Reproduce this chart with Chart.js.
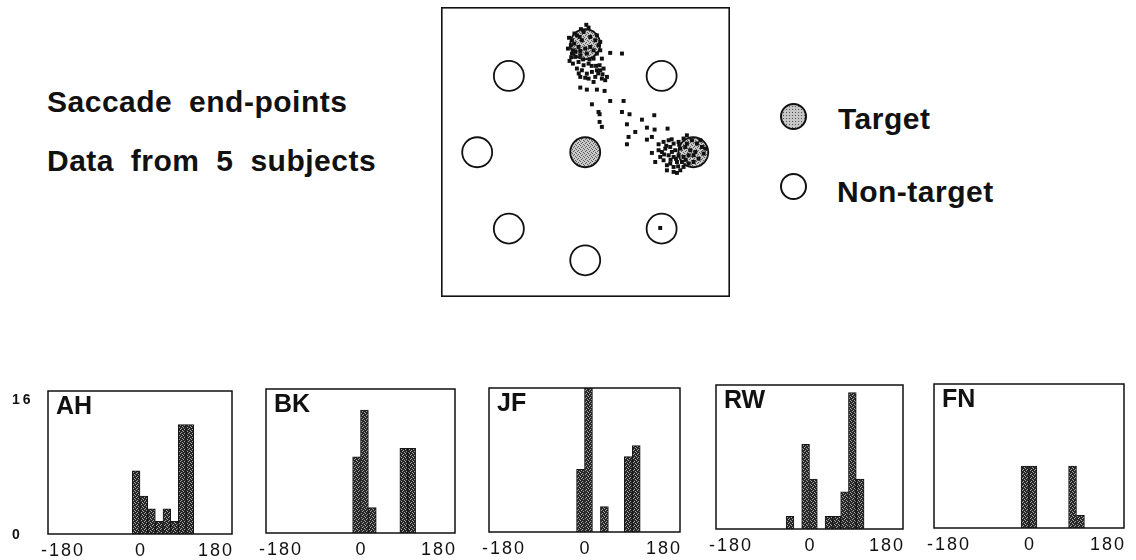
<!DOCTYPE html>
<html><head><meta charset="utf-8">
<script src="https://cdn.jsdelivr.net/npm/chart.js@4.4.0/dist/chart.umd.min.js"></script>
<style>
html,body{margin:0;padding:0;background:#fff;}
body{width:1136px;height:560px;position:relative;overflow:hidden;font-family:"Liberation Sans",Arial,Helvetica,sans-serif;}
.t{position:absolute;font-weight:bold;font-size:30px;color:#111;letter-spacing:0.5px;word-spacing:8px;white-space:nowrap;line-height:30px;}
.box{position:absolute;}
.lc{position:absolute;border:2px solid #111;border-radius:50%;box-sizing:border-box;width:27px;height:27px;}
.shade{background:radial-gradient(circle,#555 0.7px,transparent 0.9px) 0 0/3px 3px,#c6c6c6;}
</style></head><body>

<div class="t" style="left:47px;top:87px;">Saccade end-points</div>
<div class="t" style="left:47px;top:146px;">Data from 5 subjects</div>
<div class="lc shade" style="left:780px;top:103px;"></div>
<div class="t" style="left:838px;top:104px;">Target</div>
<div class="lc" style="left:780px;top:173px;background:#fff;"></div>
<div class="t" style="left:837px;top:177px;">Non-target</div>

<div class="box" style="left:441px;top:7px;width:289px;height:290px;"><canvas id="sc"></canvas></div>
<div class="box" id="w0"><canvas id="h0"></canvas></div>
<div class="box" id="w1"><canvas id="h1"></canvas></div>
<div class="box" id="w2"><canvas id="h2"></canvas></div>
<div class="box" id="w3"><canvas id="h3"></canvas></div>
<div class="box" id="w4"><canvas id="h4"></canvas></div>

<script>
// ---------- DATA ----------
// stimulus positions (units: ring radius = 10)
const fixation = [[0, 0]];
const targets = [[0, 10], [10, 0]];
const nonTargets = [[7.07, 7.07], [7.07, -7.07], [0, -10], [-7.07, -7.07], [-10, 0], [-7.07, 7.07]];

// saccade end-points
const endPoints = [
  [0.31,11.54],[-0.15,11.14],[-0.77,10.83],[-1.23,10.37],[-1.33,9.91],[-1.08,9.44],[-0.62,9.75],[-0.31,10.37],
  [0.46,10.68],[0.93,10.37],[1.23,9.91],[0.77,9.44],[0.15,9.14],[-0.46,8.98],[-0.93,8.83],[-1.45,8.46],
  [-1.14,8.21],[-0.62,8.36],[-0.15,8.06],[0.31,8.21],[0.77,8.67],[1.08,9.14],[1.39,9.44],[1.54,8.67],
  [1.33,8.06],[1.70,7.75],[1.08,7.59],[0.62,7.44],[0.15,7.28],[-0.31,7.59],[-0.77,7.75],[-0.46,6.98],
  [0.31,6.82],[0.93,6.98],[1.54,6.82],[1.85,6.67],[2.01,6.98],[-1.23,9.14],[0.46,9.75],[0.00,9.60],
  [-0.46,9.38],[1.39,7.59],[1.60,7.22],[0.77,6.51],[-1.02,10.06],[-0.52,10.68],[1.08,10.83],[1.39,10.22],
  [0.10,11.80],[-0.40,11.40],[-1.00,11.00],[-1.50,10.60],[-1.60,9.60],[-1.30,8.80],[-0.90,9.30],[0.40,8.60],
  [-0.20,8.60],[1.00,8.00],[0.60,8.00],[-0.60,7.30],[1.20,7.30],[0.00,6.90],
  [2.31,9.20],[3.40,9.14],[-0.46,5.99],[0.15,5.80],[1.08,5.80],[1.79,5.68],[0.62,4.44],[2.31,4.75],
  [3.55,4.75],[1.23,3.73],[1.33,3.52],[3.40,3.73],[4.10,3.52],[1.33,2.81],[1.54,2.35],[5.25,3.02],
  [6.39,3.43],[3.86,2.59],[5.71,2.28],[6.42,2.10],[7.62,2.19],[4.63,1.88],[4.01,1.42],[5.71,1.17],
  [6.17,1.42],[3.86,0.74],[6.79,0.74],[6.17,-0.06],[6.48,-0.90],
  [7.25,0.96],[7.72,1.11],[8.18,0.80],[8.64,0.96],[9.10,1.27],[9.41,1.57],[9.88,1.11],[10.34,0.80],
  [10.80,0.49],[10.96,-0.12],[10.49,-0.59],[10.03,-0.90],[9.57,-1.05],[9.10,-1.36],[8.80,-1.67],[8.49,-1.91],
  [8.18,-1.36],[7.87,-1.05],[7.56,-1.20],[7.25,-0.74],[6.94,-0.43],[7.10,0.03],[7.41,0.34],[7.87,0.49],
  [8.33,0.19],[8.80,0.34],[9.26,0.49],[9.72,0.19],[10.19,0.03],[9.57,-0.28],[9.10,-0.43],[8.64,-0.28],
  [8.18,-0.43],[7.72,-0.28],[8.02,0.03],[8.95,-0.90],[8.49,-0.90],[9.41,0.80],[10.65,1.11],[11.11,0.34],
  [6.79,0.19],[7.56,-1.67],[8.18,-1.82],[10.03,-0.28],
  [7.50,0.60],[8.00,1.20],[8.40,-0.60],[7.90,-0.70],[9.30,-0.70],[8.70,0.70],[7.30,-0.20],[8.60,-1.30],
  [6.94,-7.01]
];

// histograms: direction bins (deg, 15 deg wide) and counts
const binCenters = [-37.5, -22.5, -7.5, 7.5, 22.5, 37.5, 52.5, 67.5, 82.5, 97.5];
const subjects = ['AH', 'BK', 'JF', 'RW', 'FN'];
const countsAH = [null, null, 7.5, 4.5, 3, 1.5, 3, 1.5, 13, 13];
const countsBK = [null, null, 9, 14.5, 3, null, null, null, 10, 10];
const countsJF = [null, null, 7.4, 17.5, null, 3, null, null, 8.9, 10.2];
const countsRW = [1.5, null, 10, 5.9, null, 1.5, 1.5, 4.4, 16.1, 5.9];
const countsFN = [null, null, 7.3, 7.3, null, null, null, null, 7.3, 1.5];
const xTicks = [-180, 0, 180];
const yTicks = [0, 16];

// ---------- LAYOUT / STYLE ----------
const FONT = '"Liberation Sans", Arial, Helvetica, sans-serif';
function makePattern(base, spot, pts) {
  const c = document.createElement('canvas'); c.width = 4; c.height = 4;
  const g = c.getContext('2d'); g.fillStyle = base; g.fillRect(0, 0, 4, 4);
  g.fillStyle = spot; pts.forEach(([a, b]) => g.fillRect(a, b, 1, 1));
  return g.createPattern(c, 'repeat');
}
const lightPat = makePattern('#cacaca', '#5a5a5a', [[0,0],[2,1],[1,3],[3,2]]);
const barPat = makePattern('#262626', '#a8a8a8', [[0,0],[2,1],[1,3],[3,2]]);

Chart.defaults.font.family = FONT;
const common = {
  responsive: true, maintainAspectRatio: false, animation: false, events: [],
  plugins: { legend: { display: false }, tooltip: { enabled: false } }
};

const scBorder = {
  id: 'scBorder',
  afterDraw(chart) {
    const { ctx, chartArea: a } = chart;
    ctx.save(); ctx.strokeStyle = '#111'; ctx.lineWidth = 1.6;
    ctx.strokeRect(a.left + 0.8, a.top + 0.8, a.right - a.left - 1.6, a.bottom - a.top - 1.6);
    ctx.restore();
  }
};
const pts = arr => arr.map(([x, y]) => ({ x, y }));
new Chart(document.getElementById('sc'), {
  type: 'scatter',
  data: { datasets: [
    { data: pts(endPoints), pointStyle: 'rect', pointRadius: 2.8, backgroundColor: '#111', borderWidth: 0 },
    { data: pts(targets), pointRadius: 15, backgroundColor: lightPat, borderColor: '#111', borderWidth: 1.8 },
    { data: pts(fixation), pointRadius: 15, backgroundColor: lightPat, borderColor: '#111', borderWidth: 1.8 },
    { data: pts(nonTargets), pointRadius: 15, backgroundColor: '#fff', borderColor: '#111', borderWidth: 1.8 }
  ]},
  options: Object.assign({}, common, {
    layout: { autoPadding: false, padding: 0 },
    scales: {
      x: { type: 'linear', display: false, min: -13.35, max: 13.4 },
      y: { type: 'linear', display: false, min: -13.4, max: 13.45 }
    }
  }),
  plugins: [scBorder]
});

const histPlugin = {
  id: 'hist',
  afterDraw(chart, args, opts) {
    const { ctx, chartArea: a, scales: { x, y } } = chart;
    ctx.save();
    ctx.strokeStyle = '#111'; ctx.lineWidth = 1.5;
    ctx.strokeRect(a.left, a.top, a.right - a.left, a.bottom - a.top);
    ctx.fillStyle = '#111';
    ctx.font = 'bold 25px ' + FONT;
    ctx.textAlign = 'left'; ctx.textBaseline = 'alphabetic';
    ctx.fillText(opts.label, a.left + 8, a.top + 23);
    ctx.font = '18px ' + FONT;
    ctx.letterSpacing = '2px';
    ctx.textBaseline = 'middle';
    const ty = a.bottom + 17;
    xTicks.forEach((v, i) => {
      const px = x.getPixelForValue(v), s = String(v);
      if (i === 0) { ctx.textAlign = 'left'; ctx.fillText(s, px - ctx.measureText('-').width + 1, ty); }
      else if (i === xTicks.length - 1) { ctx.textAlign = 'right'; ctx.fillText(s, px + 2, ty); }
      else { ctx.textAlign = 'center'; ctx.fillText(s, px + 1, ty); }
    });
    if (opts.showY) {
      ctx.font = 'bold 14px ' + FONT; ctx.letterSpacing = '3px'; ctx.textAlign = 'left';
      yTicks.forEach(v => ctx.fillText(String(v), a.left - 36, y.getPixelForValue(v) + 1));
    }
    ctx.restore();
  }
};

const boxes = [
  { l: 48, t: 391, w: 184, h: 143 },
  { l: 266, t: 389, w: 189, h: 144 },
  { l: 489, t: 388, w: 191, h: 144 },
  { l: 716, t: 385, w: 187, h: 144 },
  { l: 934, t: 384, w: 190, h: 144 }
];
const allCounts = [countsAH, countsBK, countsJF, countsRW, countsFN];
const PAD = { left: 40, right: 8, top: 6, bottom: 30 };
boxes.forEach((b, i) => {
  const w = document.getElementById('w' + i);
  w.style.left = (b.l - PAD.left) + 'px'; w.style.top = (b.t - PAD.top) + 'px';
  w.style.width = (b.w + PAD.left + PAD.right) + 'px'; w.style.height = (b.h + PAD.top + PAD.bottom) + 'px';
  new Chart(document.getElementById('h' + i), {
    type: 'bar',
    data: { datasets: [{
      data: binCenters.map((c, k) => ({ x: c, y: allCounts[i][k] })),
      backgroundColor: barPat, borderColor: '#151515', borderWidth: 1,
      barPercentage: 1, categoryPercentage: 1
    }]},
    options: Object.assign({}, common, {
      layout: { autoPadding: false, padding: PAD },
      plugins: Object.assign({}, common.plugins, { hist: { label: subjects[i], showY: i === 0 } }),
      scales: {
        x: { type: 'linear', display: false, min: -180, max: 180, offset: false },
        y: { type: 'linear', display: false, min: 0, max: 17 }
      }
    }),
    plugins: [histPlugin]
  });
});
</script>
</body></html>
